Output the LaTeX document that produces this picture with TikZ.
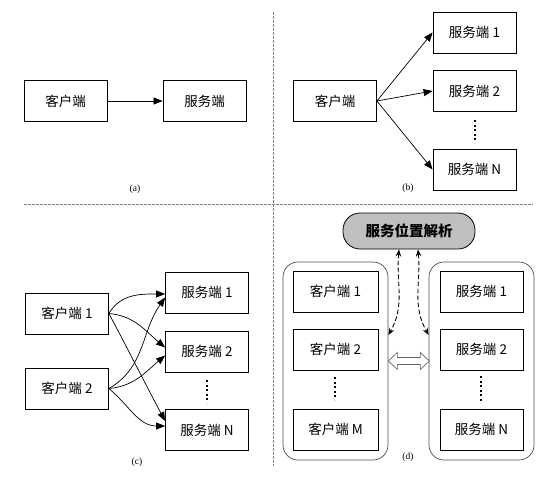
\documentclass[tikz,border=0pt]{standalone}
\usepackage{fontspec}
\setmainfont{Liberation Sans}
\newfontfamily\cjk{Noto Sans CJK SC}
\newfontfamily\capfont{Liberation Serif}
\usetikzlibrary{arrows.meta,positioning}
\begin{document}
\begin{tikzpicture}[x=1pt,y=-1pt,
  box/.style={draw,line width=0.8pt,minimum width=83pt,minimum height=41pt,inner sep=0pt,font=\cjk\fontsize{13.5}{15}\selectfont},
  group/.style={draw=black!70,line width=0.7pt,rounded corners=15pt,minimum width=105pt,minimum height=198pt},
  sub/.style={font=\capfont\fontsize{9.5}{10}\selectfont},
  sep/.style={draw=gray,line width=0.8pt,dash pattern=on 2.5pt off 1.5pt},
  more/.style={line width=2pt,dash pattern=on 2pt off 2.6pt},
  tip/.style={-{Triangle[length=9pt,width=7pt]},line width=0.7pt},
  ask/.style={{Stealth[length=7pt,width=5.5pt]}-{Stealth[length=7pt,width=5.5pt]},dash pattern=on 4.5pt off 2.5pt,line width=0.9pt}]
\useasboundingbox (0,0) rectangle (543,480);
% separators
\draw[sep] (24,204) -- (533,204);
\draw[sep] (273,12) -- (273,466);

% (a)
\node[box] (ca) at (65.5,101) {客户端};
\node[box] (sa) at (204.5,101) {服务端};
\draw[tip] (ca) -- (sa);
\node[sub] (la) at (135,189) {(a)};

% (b)
\node[box] (cb) at (335,101) {客户端};
\node[box] (sb1) at (474.5,32.5) {服务端 1};
\node[box] (sb2) at (474.5,91) {服务端 2};
\node[box] (sbn) at (474.5,169.5) {服务端 N};
\foreach \s in {sb1,sb2,sbn}
  \draw[tip] (cb.east) -- (\s.west);
\draw[more] (475,120) -- (475,143);
\node[sub] (lb) at (408,188) {(b)};

% (c)
\node[box] (cc1) at (67,313.5) {客户端 1};
\node[box] (cc2) at (67,388.5) {客户端 2};
\node[box] (sc1) at (207,292.5) {服务端 1};
\node[box] (sc2) at (207,351.5) {服务端 2};
\node[box] (scn) at (207,430) {服务端 N};
\foreach \f/\t/\o/\i/\d in {cc1/sc1/60/180/-1.5, cc1/sc2/-5/140/4, cc1/scn/-62/118/9,
    cc2/sc1/30/235/-5, cc2/sc2/5/220/-4, cc2/scn/-40/180/4}
  \draw[tip] (\f.east) to[out=\o,in=\i] ([yshift=\d]\t.west);
\draw[more] (207,380) -- (207,403);
\node[sub] (lc) at (137,462) {(c)};

% (d)
\node[group] (lg) at (335.5,361) {};
\node[group] (rg) at (481.5,361) {};
\node[box,minimum width=85pt] (cd1) at (335.5,291.5) {客户端 1};
\node[box,minimum width=85pt] (cd2) at (335.5,349.5) {客户端 2};
\node[box,minimum width=85pt] (cdm) at (335.5,429.5) {客户端 M};
\node[box] (sd1) at (481.5,291.5) {服务端 1};
\node[box] (sd2) at (481.5,349.5) {服务端 2};
\node[box] (sdn) at (481.5,429.5) {服务端 N};
\draw[more] (335,377) -- (335,400);
\draw[more] (481,376) -- (481,401);
\node[draw,fill=black!25,line width=0.8pt,rounded corners=17pt,minimum width=132pt,minimum height=36pt,
  font=\cjk\bfseries\fontsize{14.5}{16}\selectfont] (loc) at (409,231) {服务位置解析};
\draw[ask] ([xshift=-10]loc.south) to[out=-95,in=60] ([yshift=26]lg.east);
\draw[ask] ([xshift=9]loc.south) to[out=-85,in=120] ([yshift=26]rg.west);
% two-way link between the groups
\draw[draw=black!60,fill=white,line width=0.7pt] (lg.east) -- ++(9,-8.5) -- ++(0,5) -- ++(23,0) -- ++(0,-5)
  -- ++(9,8.5) -- ++(-9,8.5) -- ++(0,-5) -- ++(-23,0) -- ++(0,5) -- cycle;
\node[sub] (ld) at (408,457) {(d)};
\end{tikzpicture}
\end{document}
